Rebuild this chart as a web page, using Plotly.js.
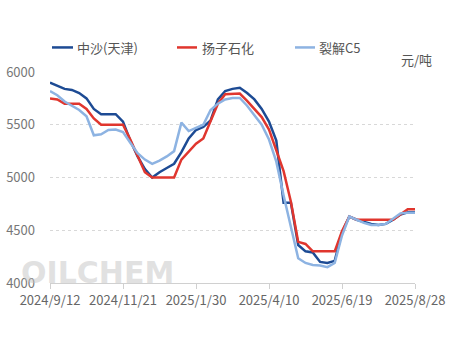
<!DOCTYPE html>
<html>
<head>
<meta charset="utf-8">
<script src="https://cdn.plot.ly/plotly-3.0.1.min.js"></script>
<style>html,body{margin:0;padding:0;background:#fff;}#chart{width:450px;height:340px;}</style>
</head>
<body>
<div id="chart"></div>
<script>
var dates = ["2024/9/12","2024/9/19","2024/9/26","2024/10/3","2024/10/10","2024/10/17","2024/10/24","2024/10/31","2024/11/7","2024/11/14",
"2024/11/21","2024/11/28","2024/12/5","2024/12/12","2024/12/19","2024/12/26","2025/1/2","2025/1/9","2025/1/16","2025/1/23",
"2025/1/30","2025/2/6","2025/2/13","2025/2/20","2025/2/27","2025/3/6","2025/3/13","2025/3/20","2025/3/27","2025/4/3",
"2025/4/10","2025/4/17","2025/4/24","2025/5/1","2025/5/8","2025/5/15","2025/5/22","2025/5/29","2025/6/5","2025/6/12",
"2025/6/19","2025/6/26","2025/7/3","2025/7/10","2025/7/17","2025/7/24","2025/7/31","2025/8/7","2025/8/14","2025/8/21","2025/8/28"];

var seriesNames = ["中沙(天津)", "扬子石化", "裂解C5"];
var seriesColors = ["#1d4b94", "#e0362e", "#8db3e2"];

var zhongsha = [5900,5870,5840,5830,5800,5750,5650,5600,5600,5600,
5530,5350,5200,5080,5000,5050,5090,5130,5240,5370,
5450,5480,5540,5740,5820,5840,5850,5800,5740,5650,
5530,5350,4760,4760,4360,4300,4290,4200,4190,4210,
4480,4630,4600,4580,4560,4550,4560,4600,4650,4670,4670];

var yangzi = [5750,5740,5700,5700,5700,5650,5560,5500,5500,5500,
5500,5360,5200,5050,5000,5000,5000,5000,5170,5250,
5320,5370,5530,5700,5790,5796,5796,5727,5648,5573,
5455,5250,5060,4770,4390,4370,4300,4300,4300,4300,
4490,4630,4600,4600,4600,4600,4600,4600,4650,4700,4700];

var liejie = [5820,5780,5720,5680,5640,5580,5400,5410,5450,5455,
5430,5330,5230,5170,5130,5160,5200,5250,5520,5440,
5470,5500,5640,5700,5740,5754,5754,5680,5590,5500,
5360,5150,4830,4530,4235,4190,4170,4165,4150,4190,
4450,4630,4600,4570,4550,4550,4560,4610,4660,4665,4665];

var tickLabels = ["2024/9/12","2024/11/21","2025/1/30","2025/4/10","2025/6/19","2025/8/28"];
var yTicks = [4000,4500,5000,5500,6000];
var unitText = "元/吨";

var allSeries = [zhongsha, yangzi, liejie];
var traces = allSeries.map(function(s, k){
  return {x: dates, y: s, type: "scatter", mode: "lines", name: seriesNames[k],
    line: {color: seriesColors[k], width: 2.5}, hoverinfo: "x+y"};
});

var fontFam = "Noto Sans CJK SC, Open Sans, sans-serif";
// legend built manually: plot area px 50..415 x, 72.5..283 y
function px(x){ return (x-50)/365; }
function py(y){ return (283-y)/210.5; }
var legendPos = [[52,73,75],[177,197,200],[295,315,317]];
var shapes = [], annotations = [];
legendPos.forEach(function(p,k){
  shapes.push({type:"line", xref:"paper", yref:"paper", x0:px(p[0]), x1:px(p[1]), y0:py(48), y1:py(48),
    line:{color:seriesColors[k], width:2.5}});
  annotations.push({xref:"paper", yref:"paper", x:px(p[2]), y:py(48), xanchor:"left", yanchor:"middle",
    text:seriesNames[k], showarrow:false, font:{family:fontFam, size:13, color:"#555"}});
});
annotations.push({xref:"paper", yref:"paper", x:px(434), y:py(60), xanchor:"right", yanchor:"middle",
  text:unitText, showarrow:false, font:{family:fontFam, size:13, color:"#555"}});
annotations.push({xref:"paper", yref:"paper", x:px(97), y:py(273), xanchor:"center", yanchor:"middle",
  borderpad:0, text:"<b>OILCHEM</b>", showarrow:false, font:{family:"DejaVu Sans, sans-serif", size:30, color:"rgba(195,195,195,0.5)"}});

var layout = {
  width: 450, height: 340,
  margin: {l: 50, r: 35, t: 72, b: 57, pad: 0},
  paper_bgcolor: "#fff", plot_bgcolor: "#fff",
  showlegend: false,
  xaxis: {type: "category", range: [0, dates.length-1], tickmode: "array", tickvals: tickLabels, ticktext: tickLabels,
    showgrid: false, zeroline: false, showline: true, linecolor: "#d0d0d0", linewidth: 1,
    ticks: "outside", ticklen: 5, tickcolor: "#d0d0d0",
    tickfont: {family: fontFam, size: 13, color: "#666"}, fixedrange: true},
  yaxis: {range: [4000, 6000], tickmode: "array", tickvals: yTicks, showgrid: true, gridcolor: "#d8d8d8", griddash: "dot",
    zeroline: false, showline: false, ticks: "", ticklabelstandoff: 14,
    tickfont: {family: fontFam, size: 13, color: "#777"}, fixedrange: true},
  shapes: shapes,
  annotations: annotations
};
Plotly.newPlot("chart", traces, layout, {displayModeBar: false, staticPlot: true});
</script>
</body>
</html>
